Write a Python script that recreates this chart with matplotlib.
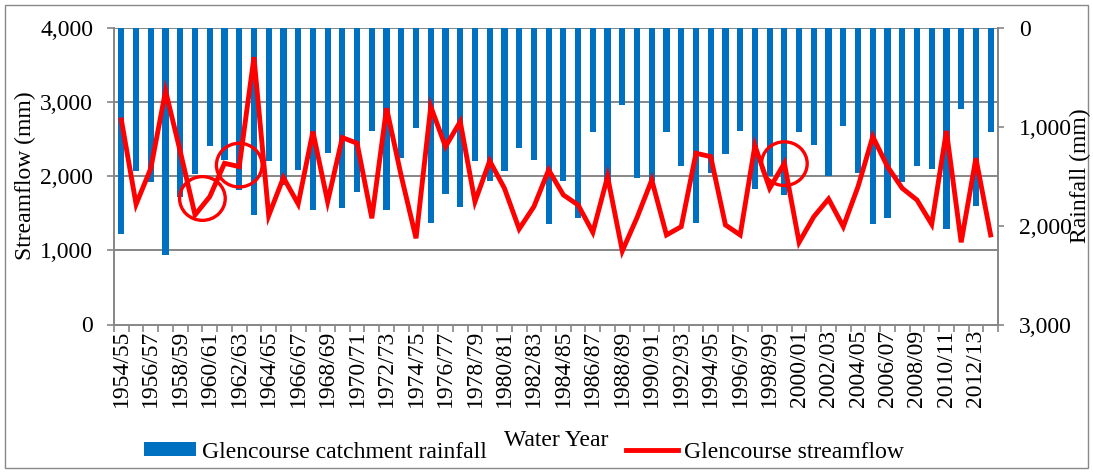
import numpy as np
import matplotlib.pyplot as plt
from matplotlib.patches import Ellipse, Rectangle
from matplotlib.lines import Line2D
from matplotlib.ticker import FuncFormatter

plt.rcParams['font.family'] = ['Liberation Serif', 'DejaVu Serif']

# water years 1954/55 .. 2013/14
years = ["%d/%02d" % (y, (y + 1) % 100) for y in range(1954, 2014)]

rainfall = [2085, 1444, 1562, 2298, 1707, 1478, 1198, 1340, 1643, 1893,
            1343, 1589, 1437, 1842, 1262, 1825, 1657, 1042, 1842, 1320,
            1009, 1977, 1683, 1808, 1346, 1549, 1447, 1218, 1339, 1987,
            1549, 1920, 1056, 1545, 779, 1515, 1545, 1056, 1397, 1977,
            1471, 1279, 1042, 1630, 1500, 1690, 1056, 1184, 1495, 992,
            1464, 1984, 1926, 1555, 1393, 1430, 2038, 820, 1798, 1056]

streamflow = [2760, 1622, 2108, 3151, 2332, 1478, 1725, 2175, 2130, 3606,
              1469, 1982, 1626, 2602, 1657, 2521, 2445, 1433, 2918, 2000,
              1163, 2940, 2400, 2737, 1657, 2207, 1838, 1289, 1590, 2085,
              1748, 1613, 1244, 1995, 992, 1442, 1950, 1208, 1320, 2310,
              2265, 1343, 1208, 2413, 1838, 2175, 1109, 1455, 1694, 1320,
              1860, 2535, 2130, 1838, 1680, 1352, 2611, 1109, 2243, 1208]

# hand-drawn circles (category position, streamflow)
circles = [(5.5, 1700), (8.0, 2150), (45.0, 2170)]

W, H = 1093, 473
fig = plt.figure(figsize=(W / 100, H / 100), dpi=100)
ax = fig.add_axes([114 / W, 1 - 324.5 / H, 884 / W, 296.5 / H])
ax2 = ax.twinx()
ax.set_zorder(2)
ax2.set_zorder(1)
ax.patch.set_visible(False)

grey = '#868686'
fs = 17
x = np.arange(len(years))

# gridlines drawn under the bars, on the left scale
for v in [1000, 2000, 3000, 4000]:
    ax2.add_line(Line2D([0, 1], [v, v], transform=ax.get_yaxis_transform(),
                        color=grey, lw=1.4, zorder=0))

bars = ax2.bar(x, rainfall, width=0.42, color='#0070C0', zorder=2)
ax2.set_ylim(3000, 0)
ax2.set_yticks([0, 1000, 2000, 3000])

line, = ax.plot(x, streamflow, color='#FF0000', lw=3.5, solid_joinstyle='miter', zorder=3)
ax.set_ylim(0, 4000)
ax.set_yticks([0, 1000, 2000, 3000, 4000])
ax.set_xlim(-0.5, len(years) - 0.5)

for cx, cy in circles:
    ax.add_patch(Ellipse((cx, cy), width=3.1, height=590, fill=False,
                         edgecolor='#FF0000', lw=2.4, zorder=4))

comma = FuncFormatter(lambda v, p: format(int(v), ','))
ax.yaxis.set_major_formatter(comma)
ax2.yaxis.set_major_formatter(comma)

ax.set_xticks(np.arange(-0.5, len(years), 1))
ax.set_xticklabels([])
ax.set_xticks(x[::2], minor=True)
ax.set_xticklabels(years[::2], minor=True, rotation=90, fontsize=fs)
ax.tick_params(axis='x', which='major', length=5, width=1.2, color=grey, direction='out')
ax.tick_params(axis='x', which='minor', length=0, pad=4)
ax.tick_params(axis='y', length=5, width=1.2, color=grey, labelsize=fs, pad=10)
ax2.tick_params(axis='y', length=4, width=1.2, color=grey, labelsize=fs, pad=11)

for s in ['top', 'right']:
    ax.spines[s].set_visible(False)
for s in ['left', 'bottom']:
    ax.spines[s].set_color(grey)
    ax.spines[s].set_linewidth(1.4)
for s in ['top', 'left', 'bottom']:
    ax2.spines[s].set_visible(False)
ax2.spines['right'].set_color(grey)
ax2.spines['right'].set_linewidth(1.4)

fig.text(25 / W, 1 - 176 / H, 'Streamflow (mm)', rotation=90, ha='center', va='center', fontsize=fs)
fig.text(1080 / W, 1 - 176 / H, 'Rainfall (mm)', rotation=90, ha='center', va='center', fontsize=fs)
fig.text(556 / W, 1 - 440 / H, 'Water Year', ha='center', va='center', fontsize=fs)

fig.legend([bars, line], ['Glencourse catchment rainfall', 'Glencourse streamflow'],
           ncol=2, loc='center left', bbox_to_anchor=(144 / W, 1 - 452 / H),
           frameon=False, borderpad=0, borderaxespad=0, handlelength=2.2,
           handleheight=0.5, handletextpad=0.25, columnspacing=5.9, fontsize=fs)

fig.add_artist(Rectangle((5 / W, 5 / H), 1083 / W, 463 / H, transform=fig.transFigure,
                         fill=False, edgecolor='#898989', lw=1))

fig.savefig('out.png', dpi=100)
